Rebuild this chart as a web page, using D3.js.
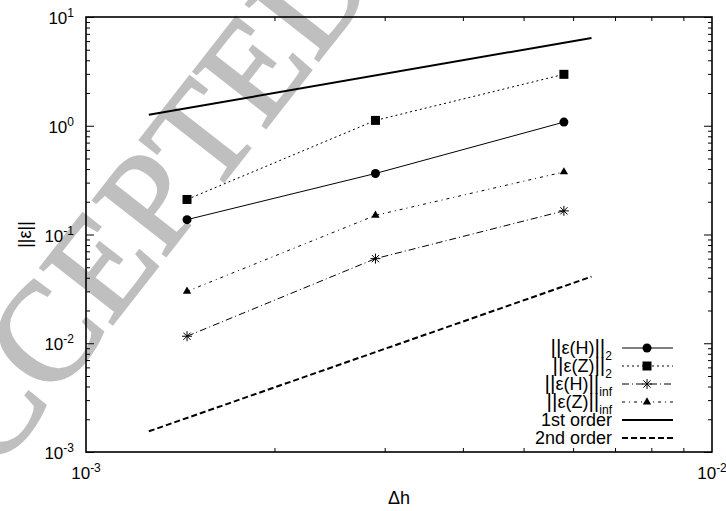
<!DOCTYPE html>
<html>
<head>
<meta charset="utf-8">
<script src="https://cdn.jsdelivr.net/npm/d3@7"></script>
<style>
  body { margin: 0; background: #fff; }
  text { font-family: "Liberation Sans", Arial, sans-serif; }
</style>
</head>
<body>
<svg width="726" height="511"></svg>
<script>
// dati
var dh = [0.00145, 0.0029, 0.0058];
var errH2 = [0.137, 0.364, 1.08];
var errZ2 = [0.21, 1.12, 2.97];
var errHinf = [0.0116, 0.060, 0.165];
var errZinf = [0.030, 0.150, 0.376];
var orderX = [0.00126, 0.00642];
var order1 = [1.26, 6.42];
var order2 = [0.00155, 0.0410];
var xTicks = [1e-3, 1e-2];
var xTickLabels = ["-3", "-2"];
var yTicks = [1e-3, 1e-2, 1e-1, 1e0, 1e1];
var yTickLabels = ["-3", "-2", "-1", "0", "1"];
var legendNames = [["ε(H)", "2"], ["ε(Z)", "2"], ["ε(H)", "inf"], ["ε(Z)", "inf"], ["1st order"], ["2nd order"]];

var svg = d3.select("svg"),
  margin = {top: 17, right: 14, bottom: 59, left: 86},
  width = 726 - margin.left - margin.right,
  height = 511 - margin.top - margin.bottom;

// watermark
svg.append("text")
  .attr("transform", "translate(-67,554) rotate(-52)")
  .style("font-family", "'Liberation Serif', serif")
  .attr("font-size", 140)
  .attr("fill", "#bfbfbf")
  .attr("stroke", "#bfbfbf")
  .attr("stroke-width", 2.5)
  .text("ACCEPTED MANUSCRIPT");

var g = svg.append("g").attr("transform", "translate(" + margin.left + "," + margin.top + ")");

var x = d3.scaleLog().domain([1e-3, 1e-2]).range([0, width]);
var y = d3.scaleLog().domain([1e-3, 1e1]).range([height, 0]);

// tick minori e maggiori (verso l'interno, su tutti e quattro i lati)
var xMinor = [], yMinor = [];
for (var k = 2; k <= 9; k++) xMinor.push(k * 1e-3);
for (var p = -3; p < 1; p++) for (var k = 2; k <= 9; k++) yMinor.push(k * Math.pow(10, p));

function tickAxes(sel, gen, ticks, size, tr) {
  sel.append("g").attr("transform", tr)
    .call(gen.tickValues(ticks).tickSize(size).tickFormat(""))
    .call(function(a) { a.select(".domain").remove(); a.selectAll("line").attr("stroke", "#000").attr("stroke-width", 1); });
}
tickAxes(g, d3.axisTop(x), xMinor, 4, "translate(0," + height + ")");
tickAxes(g, d3.axisBottom(x), xMinor, 4, "translate(0,0)");
tickAxes(g, d3.axisRight(y), yMinor, 4, "translate(0,0)");
tickAxes(g, d3.axisLeft(y), yMinor, 4, "translate(" + width + ",0)");
tickAxes(g, d3.axisRight(y), yTicks, 8, "translate(0,0)");
tickAxes(g, d3.axisLeft(y), yTicks, 8, "translate(" + width + ",0)");

// cornice
g.append("rect").attr("width", width).attr("height", height)
  .attr("fill", "none").attr("stroke", "#000").attr("stroke-width", 1.6);

// etichette tick
yTicks.forEach(function(v, i) {
  var t = g.append("text").attr("x", -12).attr("y", y(v) + 7)
    .attr("text-anchor", "end").attr("font-size", 17);
  t.append("tspan").text("10");
  t.append("tspan").attr("dy", -7).attr("font-size", 12).text(yTickLabels[i]);
});
xTicks.forEach(function(v, i) {
  var t = g.append("text").attr("x", x(v)).attr("y", height + 27)
    .attr("text-anchor", "middle").attr("font-size", 17);
  t.append("tspan").text("10");
  t.append("tspan").attr("dy", -7).attr("font-size", 12).text(xTickLabels[i]);
});

// titoli assi
g.append("text").attr("x", width / 2).attr("y", height + 52)
  .attr("text-anchor", "middle").attr("font-size", 18).text("Δh");
g.append("text").attr("transform", "translate(-55," + (height / 2) + ") rotate(-90)")
  .attr("text-anchor", "middle").attr("font-size", 18).text("||ε||");

// serie
var series = [
  {v: errH2, dash: null, mark: "circle"},
  {v: errZ2, dash: "2,3", mark: "square"},
  {v: errHinf, dash: "7,3,1,3", mark: "star"},
  {v: errZinf, dash: "3,4,1,4", mark: "triangle"}
];

var line = d3.line().x(function(d) { return x(d[0]); }).y(function(d) { return y(d[1]); });

function marker(sel, type, cx, cy) {
  if (type === "circle") {
    sel.append("circle").attr("cx", cx).attr("cy", cy).attr("r", 4.5).attr("fill", "#000");
  } else if (type === "square") {
    sel.append("rect").attr("x", cx - 4.5).attr("y", cy - 4.5).attr("width", 9).attr("height", 9).attr("fill", "#000");
  } else if (type === "triangle") {
    sel.append("path").attr("d", d3.symbol().type(d3.symbolTriangle).size(30)()).attr("transform", "translate(" + cx + "," + cy + ")").attr("fill", "#000");
  } else if (type === "star") {
    sel.append("path").attr("d", "M-5,0H5M0,-5V5M-3.6,-3.6L3.6,3.6M-3.6,3.6L3.6,-3.6")
      .attr("transform", "translate(" + cx + "," + cy + ")").attr("stroke", "#000").attr("stroke-width", 1);
  }
}

series.forEach(function(s) {
  var pts = dh.map(function(d, i) { return [d, s.v[i]]; });
  g.append("path").attr("d", line(pts)).attr("fill", "none").attr("stroke", "#000")
    .attr("stroke-width", 1).attr("stroke-dasharray", s.dash);
  pts.forEach(function(p) { marker(g, s.mark, x(p[0]), y(p[1])); });
});

g.append("path").attr("d", line(orderX.map(function(d, i) { return [d, order1[i]]; })))
  .attr("fill", "none").attr("stroke", "#000").attr("stroke-width", 2);
g.append("path").attr("d", line(orderX.map(function(d, i) { return [d, order2[i]]; })))
  .attr("fill", "none").attr("stroke", "#000").attr("stroke-width", 2).attr("stroke-dasharray", "6,3");

// legenda
var leg = svg.append("g");
legendNames.forEach(function(n, i) {
  var ly = 348 + i * 18;
  var t = leg.append("text").attr("x", 612).attr("y", ly + 6).attr("text-anchor", "end").attr("font-size", 18);
  if (n.length > 1) {
    t.append("tspan").attr("font-size", 21).text("||");
    t.append("tspan").text(n[0]);
    t.append("tspan").attr("font-size", 21).text("||");
    t.append("tspan").attr("dy", 6).attr("font-size", 12).text(n[1]);
  } else {
    t.text(n[0]);
  }
  var l = leg.append("line").attr("x1", 622).attr("x2", 673).attr("y1", ly).attr("y2", ly).attr("stroke", "#000");
  if (i < 4) {
    l.attr("stroke-width", 1).attr("stroke-dasharray", series[i].dash);
    marker(leg, series[i].mark, 647, ly);
  } else {
    l.attr("stroke-width", 2).attr("stroke-dasharray", i === 5 ? "6,3" : null);
  }
});
</script>
</body>
</html>
